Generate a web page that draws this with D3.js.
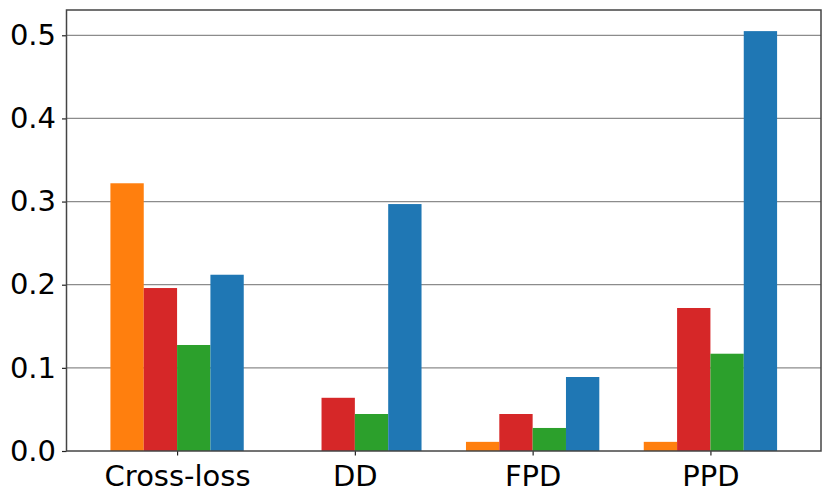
<!DOCTYPE html>
<html>
<head>
<meta charset="utf-8">
<script src="https://cdn.jsdelivr.net/npm/d3@7"></script>
<style>
  body { margin: 0; background: #fff; }
  svg text { font-family: "DejaVu Sans", sans-serif; }
</style>
</head>
<body>
<svg id="chart" width="831" height="499"></svg>
<script>
// data
const categories = ["Cross-loss", "DD", "FPD", "PPD"];
const seriesNames = ["orange", "red", "green", "blue"];
const seriesColors = ["#ff7f0e", "#d62728", "#2ca02c", "#1f77b4"];
const orangeVals = [0.322, 0.0, 0.011, 0.011];
const redVals = [0.196, 0.064, 0.0445, 0.172];
const greenVals = [0.1275, 0.0445, 0.0277, 0.117];
const blueVals = [0.212, 0.297, 0.089, 0.505];
const yTicks = [0, 0.1, 0.2, 0.3, 0.4, 0.5];

const series = [orangeVals, redVals, greenVals, blueVals];

const svg = d3.select("#chart");
const plot = {left: 66.5, right: 821, top: 10, bottom: 451};
const barW = 0.1875;

const x = d3.scaleLinear().domain([-0.622, 3.622]).range([plot.left, plot.right]);
const y = d3.scaleLinear().domain([0, 0.5304]).range([plot.bottom, plot.top]);

// grid
svg.append("g")
    .selectAll("line")
    .data(yTicks.slice(1))
    .join("line")
    .attr("x1", plot.left).attr("x2", plot.right)
    .attr("y1", d => y(d)).attr("y2", d => y(d))
    .attr("stroke", "#8c8c8c")
    .attr("stroke-width", 1.2);

// bars
let bars = [];
series.forEach((vals, s) => {
    vals.forEach((v, i) => {
        bars.push({cat: i, s: s, value: v});
    });
});

svg.append("g")
    .selectAll("rect")
    .data(bars.filter(d => d.value > 0))
    .join("rect")
    .attr("x", d => x(d.cat + (d.s - 2) * barW))
    .attr("width", x(barW) - x(0))
    .attr("y", d => y(d.value))
    .attr("height", d => y(0) - y(d.value))
    .attr("fill", d => seriesColors[d.s]);

// axes
const yAxis = d3.axisLeft(y).tickValues(yTicks).tickFormat(d3.format(".1f"))
    .tickSize(4.5).tickPadding(6);
const xAxis = d3.axisBottom(x).tickValues(d3.range(categories.length))
    .tickFormat(i => categories[i]).tickSize(4.5).tickPadding(6);

const ya = svg.append("g").attr("transform", `translate(${plot.left},0)`).call(yAxis);
const xa = svg.append("g").attr("transform", `translate(0,${plot.bottom})`).call(xAxis);

[ya, xa].forEach(a => {
    a.select(".domain").remove();
    a.selectAll(".tick line").attr("stroke", "#222").attr("stroke-width", 1.2);
    a.selectAll(".tick text").attr("fill", "#000").style("font-size", "29px");
});
xa.selectAll(".tick text").attr("dy", "0.85em");

// frame
svg.append("rect")
    .attr("x", plot.left).attr("y", plot.top)
    .attr("width", plot.right - plot.left).attr("height", plot.bottom - plot.top)
    .attr("fill", "none")
    .attr("stroke", "#444")
    .attr("stroke-width", 1.5);
</script>
</body>
</html>
